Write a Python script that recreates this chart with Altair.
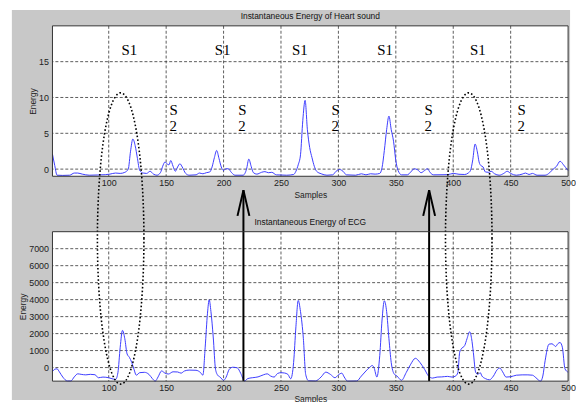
import numpy as np
import pandas as pd
import altair as alt

# ---------------- data ----------------
hs_x = [51, 53, 55, 60, 66, 70, 73, 77, 83, 90,
        97, 101, 106, 110, 114, 117, 119, 121, 123, 125,
        127, 130, 133, 136, 139, 142, 145, 147, 149, 151,
        152.5, 154, 156, 158, 160, 162, 164, 167, 170, 176,
        179, 182, 185, 188, 190, 192, 194, 196, 198, 200,
        202, 204, 207, 210, 217, 220, 222, 224, 226, 229,
        233, 236, 239, 242, 246, 255, 261, 263, 265, 267,
        269, 271, 273, 275, 277, 279, 281, 285, 290, 295,
        298, 301, 304, 307, 315, 320, 324, 328, 332, 336,
        338, 340, 342, 344, 346, 348, 350, 352, 355, 360,
        363, 366, 369, 372, 375, 377.5, 380, 383, 395, 400,
        405, 410, 413, 415, 417, 419, 421, 422.5, 424, 426,
        428, 431, 433, 436, 440, 444, 447, 450, 455, 460,
        463, 466, 469, 473, 480, 484, 487, 490, 493, 496,
        498, 500]
hs_y = [2.1, 0.5, -0.85, -0.88, -0.85, -0.55, -0.55, -0.7, -0.85, -0.82,
        -0.78, -0.7, -0.55, -0.6, -0.45, 0.0, 2.5, 4.2, 3.3, 1.5,
        -0.2, -0.55, -0.6, -0.3, -0.7, -0.85, -0.5, 0.4, 1.0, 0.7,
        0.6, 1.2, 0.4, -0.3, 0.3, 0.75, 0.3, -0.6, -0.85, -0.8,
        -0.55, -0.65, -0.5, -0.4, 0.3, 1.6, 2.6, 1.5, 0.3, -0.2,
        0.05, 0.05, -0.5, -0.85, -0.85, 0.0, 1.4, 0.4, -0.5, -0.7,
        -0.45, -0.35, -0.5, -0.45, -0.8, -0.85, -0.75, -0.3, 0.6, 2.0,
        6.8, 9.6, 5.5, 3.0, 1.6, 0.4, -0.3, -0.65, -0.85, -0.8,
        -0.3, -0.05, -0.3, -0.8, -0.85, -0.65, -0.8, -0.65, -0.7, -0.6,
        0.2, 2.6, 5.5, 7.4, 5.5, 3.9, 1.2, -0.2, -0.8, -0.8,
        -0.4, 0.05, -0.1, -0.5, -0.2, 0.05, -0.5, -0.8, -0.78, -0.6,
        -0.72, -0.75, -0.55, -0.2, 1.3, 3.5, 2.4, 1.0, 0.5, 0.3,
        -0.4, -0.45, -0.3, -0.65, -0.85, -0.6, -0.3, -0.6, -0.85, -0.7,
        -0.55, -0.75, -0.6, -0.85, -0.85, -0.5, 0.0, 0.4, 1.1, 0.6,
        0.2, -0.2]

ecg_x = [51, 53, 55, 57, 60, 64, 67, 70, 73, 76,
         80, 84, 88, 91, 95, 100, 104, 106, 108, 110,
         112, 114, 116, 118, 120, 122, 124, 127, 131, 135,
         138, 140.5, 143, 146, 149, 152, 156, 160, 163, 166,
         170, 176, 180, 182, 184, 186, 187.5, 189, 191, 193,
         195, 197, 200, 202, 205, 208, 212, 215, 218.3, 221,
         225, 230, 235, 238, 241, 244, 247, 250, 253, 256,
         258.5, 261, 263, 265, 267, 269.5, 271.5, 274, 280, 285,
         289, 293, 297, 300, 303, 305, 308, 316, 320, 324,
         327, 329.5, 331, 333.5, 336, 338, 340, 342, 344, 346,
         348.5, 351, 355, 359, 363, 367, 371, 375, 378.5, 382,
         386, 390, 395, 399, 402, 404, 405.6, 407, 410, 412,
         414.3, 416, 417.5, 419.5, 421.5, 423.5, 425, 428, 431.5, 435,
         438, 440.5, 443, 446, 450, 455, 460, 465, 469, 472,
         476, 478, 480, 483.4, 486, 489.2, 491, 493, 495, 497.3,
         500]
ecg_y = [-230, -100, -75, -250, -560, -790, -790, -550, -370, -400,
         -430, -400, -420, -600, -560, -600, -680, -700, -300, 1200,
         2190, 1700, 800, 600, 310, -100, -450, -300, -280, -400,
         -650, -800, -550, -200, -330, -380, -250, -260, -330, -200,
         -150, -160, -300, -450, 1200, 3200, 3990, 3300, 1800, -100,
         -460, -560, -750, -600, -100, 20, -20, -350, -800, -650,
         -600, -550, -420, -370, -500, -560, -350, -300, -320, -400,
         -660, 300, 2400, 3950, 3300, 1700, -400, -780, -790, -550,
         -270, -400, -600, -430, -330, -550, -800, -790, -500, -200,
         0, 120, 0, -560, 700, 2800, 3930, 3300, 1700, 300,
         -370, -500, -750, -300, 200, 545, 300, -100, -500, -620,
         -560, -550, -520, -560, -500, -300, 900, 1100, 1300, 1700,
         2110, 1700, 890, -270, -400, -300, -500, -650, -720, -500,
         -150, -30, -250, -560, -540, -450, -430, -430, -450, -600,
         -800, -500, 400, 1380, 1400, 1240, 1400, 1475, 1200, -75,
         -270]

x_ticks = [100, 150, 200, 250, 300, 350, 400, 450, 500]
hs_ticks = [0, 5, 10, 15]
ecg_ticks = [0, 1000, 2000, 3000, 4000, 5000, 6000, 7000]

x_domain = [51, 500]
hs_domain = [-1, 20]
ecg_domain = [-800, 8000]

s1_x = [118, 199.2, 266.4, 340.6, 421.5]
s1_level = 16.6
s2_x = [153, 212.8, 294, 375, 456]
s2_s_level = 8.3
s2_2_level = 6.0

ellipse_cx = [110.4, 413.5]
arrow_x = [217.3, 379]

titles = ["Instantaneous Energy of Heart sound", "Instantaneous Energy of ECG"]

# ---------------- layout / style ----------------
FIG_W, FIG_H = 576, 402
LEFT, TOP = 53, 24
W, H1, H2, GAP = 521, 152, 151, 56
FIG_X0, FIG_Y0 = 12, 8
GRAY = "#c8c8c8"
BLUE = "#3c3cff"
SANS = "Liberation Sans, Arial, sans-serif"
NARROW = "Liberation Sans Narrow, Liberation Sans, Arial, sans-serif"
SERIF = "Liberation Serif, Times New Roman, serif"

ppu_x = W / (x_domain[1] - x_domain[0])


def ecg_at(canvas_y):
    rel = canvas_y - (TOP + H1 + GAP)
    return ecg_domain[1] - rel * (ecg_domain[1] - ecg_domain[0]) / H2


xs = alt.Scale(domain=x_domain, nice=False, zero=False)
ys1 = alt.Scale(domain=hs_domain, nice=False, zero=False)
ys2 = alt.Scale(domain=ecg_domain, nice=False, zero=False)


def x_axis():
    return alt.Axis(values=x_ticks, format="d", title="Samples", grid=False,
                    domain=False, ticks=False, labelFont=NARROW, labelFontSize=9,
                    labelColor="#222", labelPadding=2, labelFlush=False,
                    labelOverlap=False, titleFont=SANS, titleFontSize=8.5,
                    titleFontWeight="normal", titleColor="#222", titlePadding=3,
                    zindex=1)


def y_axis(vals, pad):
    return alt.Axis(values=vals, format="d", title="Energy", grid=False,
                    domain=False, ticks=False, labelFont=NARROW, labelFontSize=9,
                    labelColor="#222", labelPadding=4, labelOverlap=False,
                    titleFont=SANS, titleFontSize=8.5, titleFontWeight="normal",
                    titleColor="#222", titlePadding=pad, zindex=1)


def panel(ys, yax, yvals, hdata, xv, yvv, height, title, extra_below, extra_above):
    xax = x_axis()
    X = lambda f: alt.X(f, scale=xs, axis=xax)
    Y = lambda f: alt.Y(f, scale=ys, axis=yax)
    box_df = pd.DataFrame({"x": [x_domain[0]], "x2": [x_domain[1]],
                           "y": [yvals[0]], "y2": [yvals[1]]})
    box = alt.Chart(box_df).mark_rect(color="white").encode(
        x=X("x:Q"), x2="x2", y=Y("y:Q"), y2="y2")
    vgrid = alt.Chart(pd.DataFrame({"x": x_ticks[:-1]})).mark_rule(
        color="#333", strokeDash=[3, 2], strokeWidth=0.8).encode(x=X("x:Q"))
    hgrid = alt.Chart(pd.DataFrame({"y": hdata})).mark_rule(
        color="#333", strokeDash=[3, 2], strokeWidth=0.8).encode(y=Y("y:Q"))
    df = pd.DataFrame({"x": xv, "y": yvv})
    line = alt.Chart(df).mark_line(color=BLUE, strokeWidth=1,
                                   interpolate="monotone").encode(
        x=X("x:Q"), y=Y("y:Q"))
    frame = alt.Chart(box_df).mark_rect(fillOpacity=0, stroke="#333",
                                        strokeWidth=1).encode(
        x=X("x:Q"), x2="x2", y=Y("y:Q"), y2="y2")
    ttl = alt.Chart(pd.DataFrame({"t": [title]})).mark_text(
        font=SANS, fontSize=8.5, color="#111", baseline="middle").encode(
        x=alt.value(W / 2), y=alt.value(-10), text="t:N")
    layers = extra_below(X, Y) + [box, vgrid, hgrid, line] + extra_above(X, Y) + [frame, ttl]
    return alt.layer(*layers).properties(width=W, height=height)


one = pd.DataFrame({"k": [0]})


def top_below(X, Y):
    canvas = alt.Chart(one).mark_rect(color="white").encode(
        x=alt.value(-LEFT), x2=alt.value(FIG_W - LEFT),
        y=alt.value(-TOP), y2=alt.value(FIG_H - TOP))
    fig = alt.Chart(one).mark_rect(color=GRAY).encode(
        x=alt.value(FIG_X0 - LEFT), x2=alt.value(FIG_W - LEFT),
        y=alt.value(FIG_Y0 - TOP), y2=alt.value(FIG_H - TOP))
    return [canvas, fig]


def top_above(X, Y):
    s1 = alt.Chart(pd.DataFrame({"x": s1_x, "y": [s1_level] * len(s1_x),
                                 "t": ["S1"] * len(s1_x)})).mark_text(
        font=SERIF, fontSize=15, color="black", baseline="middle").encode(
        x=X("x:Q"), y=Y("y:Q"), text="t:N")
    s2a = alt.Chart(pd.DataFrame({"x": s2_x, "y": [s2_s_level] * len(s2_x),
                                  "t": ["S"] * len(s2_x)})).mark_text(
        font=SERIF, fontSize=15, color="black", baseline="middle",
        align="left").encode(x=X("x:Q"), y=Y("y:Q"), text="t:N")
    s2b = alt.Chart(pd.DataFrame({"x": s2_x, "y": [s2_2_level] * len(s2_x),
                                  "t": ["2"] * len(s2_x)})).mark_text(
        font=SERIF, fontSize=15, color="black", baseline="middle",
        align="left").encode(x=X("x:Q"), y=Y("y:Q"), text="t:N")
    return [s1, s2a, s2b]


def bot_above(X, Y):
    # dotted ellipses spanning both panels (expressed in lower-panel units)
    e_top, e_bot = ecg_at(91.7), ecg_at(386)
    cy, b = (e_top + e_bot) / 2, (e_top - e_bot) / 2
    a = 23.5 / ppu_x
    t = np.linspace(0, 2 * np.pi, 241)
    rows = []
    for k, cx in enumerate(ellipse_cx):
        for i, tt in enumerate(t):
            rows.append({"e": k, "i": i, "x": cx + a * np.cos(tt),
                         "y": cy + b * np.sin(tt)})
    ell = alt.Chart(pd.DataFrame(rows)).mark_line(
        color="black", strokeWidth=1.6, strokeDash=[1.6, 2.2]).encode(
        x=X("x:Q"), y=Y("y:Q"), detail="e:N", order="i:Q")
    tip = ecg_at(190)
    base = ecg_at(216)
    hw = 6 / ppu_x
    shafts = alt.Chart(pd.DataFrame({"x": arrow_x,
                                     "y": [ecg_domain[0]] * len(arrow_x),
                                     "y2": [tip] * len(arrow_x)})).mark_rule(
        color="black", strokeWidth=2).encode(x=X("x:Q"), y=Y("y:Q"), y2="y2")
    hrows = []
    for k, ax in enumerate(arrow_x):
        hrows += [{"a": k, "i": 0, "x": ax - hw, "y": base},
                  {"a": k, "i": 1, "x": ax, "y": tip},
                  {"a": k, "i": 2, "x": ax + hw, "y": base}]
    heads = alt.Chart(pd.DataFrame(hrows)).mark_line(
        color="black", strokeWidth=2).encode(
        x=X("x:Q"), y=Y("y:Q"), detail="a:N", order="i:Q")
    return [ell, shafts, heads]


top = panel(ys1, y_axis(hs_ticks, 1.5), hs_domain, hs_ticks, hs_x, hs_y, H1,
            titles[0], top_below, top_above)
bottom = panel(ys2, y_axis(ecg_ticks, 1), ecg_domain, ecg_ticks, ecg_x, ecg_y, H2,
               titles[1], lambda X, Y: [], bot_above)

chart = alt.vconcat(top, bottom, spacing=GAP, bounds="flush").properties(
    padding=0).configure(background="white").configure_view(strokeWidth=0)

chart.save("out.html", embed_options={"renderer": "svg", "actions": False})
